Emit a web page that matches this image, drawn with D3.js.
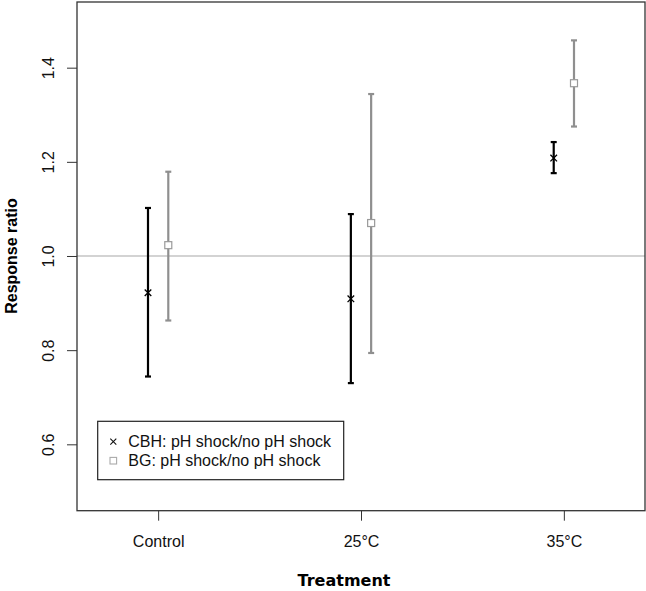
<!DOCTYPE html>
<html>
<head>
<meta charset="utf-8">
<script src="https://cdn.jsdelivr.net/npm/d3@7"></script>
<style>
  body { margin: 0; background: #fff; }
  svg { display: block; }
</style>
</head>
<body>
<svg id="chart" width="646" height="591"></svg>
<script>
// treatments on the x axis
const treatments = ["Control", "25°C", "35°C"];
// CBH: pH shock / no pH shock
const cbhMean = [0.922, 0.909, 1.208];
const cbhLow = [0.744, 0.730, 1.176];
const cbhHigh = [1.102, 1.089, 1.242];
// BG: pH shock / no pH shock
const bgMean = [1.023, 1.070, 1.367];
const bgLow = [0.863, 0.794, 1.275];
const bgHigh = [1.179, 1.344, 1.458];
const yTicks = [0.6, 0.8, 1.0, 1.2, 1.4];
const refLine = 1.0;

const svg = d3.select("#chart");
const plotL = 77, plotR = 645, plotT = 2, plotB = 510.7;
const tickFont = "'Liberation Sans', Arial, sans-serif";

let x = d3.scaleLinear().domain([0.6, 3.4]).range([plotL, plotR]);
let y = d3.scaleLinear().domain([0.459, 1.5395]).range([plotB, plotT]);

// reference line
svg.append("line")
  .attr("x1", plotL).attr("x2", plotR)
  .attr("y1", y(refLine)).attr("y2", y(refLine))
  .attr("stroke", "#c4c4c4").attr("stroke-width", 1.3);

// axes
const yAxis = svg.append("g")
  .attr("transform", `translate(${plotL},0)`)
  .call(d3.axisLeft(y).tickValues(yTicks).tickSize(10).tickFormat(d3.format(".1f")));
yAxis.select(".domain").remove();
yAxis.selectAll("line").attr("stroke", "#333");
yAxis.selectAll("text")
  .attr("x", null).attr("dy", null)
  .attr("transform", "translate(-23.5,0) rotate(-90)")
  .attr("text-anchor", "middle")
  .attr("font-family", tickFont).attr("font-size", 16).attr("fill", "#111");

const xAxis = svg.append("g")
  .attr("transform", `translate(0,${plotB})`)
  .call(d3.axisBottom(x).tickValues([1, 2, 3]).tickSize(10).tickFormat((d, i) => treatments[i]));
xAxis.select(".domain").remove();
xAxis.selectAll("line").attr("stroke", "#333");
xAxis.selectAll("text")
  .attr("y", 36).attr("dy", null)
  .attr("font-family", tickFont).attr("font-size", 16).attr("fill", "#111");

// frame
svg.append("rect")
  .attr("x", plotL).attr("y", plotT)
  .attr("width", plotR - plotL).attr("height", plotB - plotT)
  .attr("fill", "none").attr("stroke", "#333").attr("stroke-width", 1.3);

// error bars
function errorBars(mean, low, high, off, color) {
  const g = svg.append("g").attr("stroke", color).attr("stroke-width", 2.2);
  mean.forEach((m, i) => {
    const cx = x(i + 1 + off);
    g.append("line").attr("x1", cx).attr("x2", cx).attr("y1", y(low[i])).attr("y2", y(high[i]));
    g.append("line").attr("x1", cx - 3).attr("x2", cx + 3).attr("y1", y(low[i])).attr("y2", y(low[i]));
    g.append("line").attr("x1", cx - 3).attr("x2", cx + 3).attr("y1", y(high[i])).attr("y2", y(high[i]));
  });
}
errorBars(cbhMean, cbhLow, cbhHigh, -0.05, "#000");
errorBars(bgMean, bgLow, bgHigh, 0.05, "#8f8f8f");

// markers
function cross(g, cx, cy, s, color, w) {
  g.append("path")
    .attr("d", `M${cx - s},${cy - s}L${cx + s},${cy + s}M${cx - s},${cy + s}L${cx + s},${cy - s}`)
    .attr("stroke", color).attr("stroke-width", w).attr("fill", "none");
}
const pts = svg.append("g");
cbhMean.forEach((m, i) => cross(pts, x(i + 1 - 0.05), y(m), 3.3, "#000", 1.3));
pts.selectAll("rect.bg").data(bgMean).join("rect")
  .attr("class", "bg")
  .attr("x", (d, i) => x(i + 1 + 0.05) - 3.5)
  .attr("y", d => y(d) - 3.5)
  .attr("width", 7).attr("height", 7)
  .attr("fill", "#fff").attr("stroke", "#9a9a9a").attr("stroke-width", 1.2);

// legend
const lg = svg.append("g");
lg.append("rect")
  .attr("x", 97.7).attr("y", 421.3).attr("width", 246).attr("height", 58.4)
  .attr("fill", "#fff").attr("stroke", "#222").attr("stroke-width", 1.2);
cross(lg, 113.3, 441.7, 3, "#111", 1.1);
lg.append("rect").attr("x", 110).attr("y", 457.4).attr("width", 6.6).attr("height", 6.6)
  .attr("fill", "#fff").attr("stroke", "#aaa").attr("stroke-width", 1.1);
lg.append("text").attr("x", 128.3).attr("y", 447.3)
  .attr("font-family", tickFont).attr("font-size", 16).attr("fill", "#111")
  .text("CBH: pH shock/no pH shock");
lg.append("text").attr("x", 128.3).attr("y", 466.3)
  .attr("font-family", tickFont).attr("font-size", 16).attr("fill", "#111")
  .text("BG: pH shock/no pH shock");

// axis titles
svg.append("text")
  .attr("x", 344).attr("y", 586)
  .attr("text-anchor", "middle")
  .attr("font-family", "'DejaVu Sans', Verdana, sans-serif")
  .attr("font-weight", "bold").attr("font-size", 16)
  .text("Treatment");
svg.append("text")
  .attr("transform", "translate(16.5,256) rotate(-90)")
  .attr("text-anchor", "middle")
  .attr("font-family", tickFont)
  .attr("font-weight", "bold").attr("font-size", 16)
  .text("Response ratio");
</script>
</body>
</html>
